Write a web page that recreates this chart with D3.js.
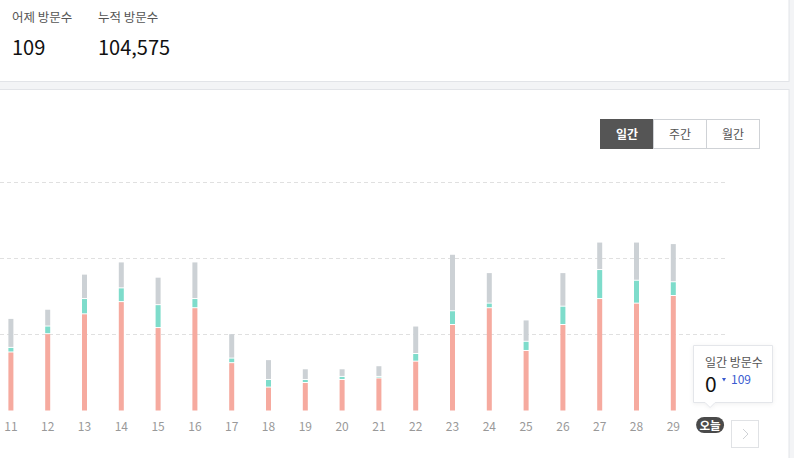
<!DOCTYPE html>
<html><head><meta charset="utf-8">
<script src="https://cdn.jsdelivr.net/npm/d3@7"></script>
<style>
html,body{margin:0;padding:0;background:#f3f4f6;}
svg{display:block;font-family:"Noto Sans CJK KR","Noto Sans",sans-serif;}
</style></head>
<body>
<script>
const categories = ["11","12","13","14","15","16","17","18","19","20","21","22","23","24","25","26","27","28","29","오늘"];
const pinkValues = [38,50,63,71,54,67,31,15,18,20,21,32,56,67,39,56,73,70,75,0];
const tealValues = [3,5,10,9,15,6,3,5,2,2,1,5,9,3,6,12,19,15,9,0];
const grayValues = [19,11,16,17,18,24,16,13,7,5,7,18,37,20,14,22,18,25,25,0];
const yTicks = [50,100,150];
const periodButtons = ["일간","주간","월간"];
const summaryLabels = ["어제 방문수","누적 방문수"];
const summaryValues = ["109","104,575"];
const tooltipTitle = "일간 방문수";
const tooltipValue = "0";
const tooltipDelta = "109";

const W = 794, H = 458;
const svg = d3.select("body").append("svg").attr("width", W).attr("height", H);

// background and cards
svg.append("rect").attr("x",0).attr("y",0).attr("width",W).attr("height",H).attr("fill","#f3f4f6");
svg.append("rect").attr("x",-2).attr("y",-2).attr("width",791).attr("height",83.5).attr("fill","#fff").attr("stroke","#e2e4e8");
svg.append("rect").attr("x",-2).attr("y",89.5).attr("width",791).attr("height",380).attr("fill","#fff").attr("stroke","#e2e4e8");

// summary
const sx = [12, 98];
summaryLabels.forEach((t,i)=>{
  svg.append("text").attr("x",sx[i]).attr("y",22).attr("font-size",12.5).attr("fill","#555").text(t);
  svg.append("text").attr("x",sx[i]).attr("y",54.5).attr("font-size",20).attr("fill","#111").text(summaryValues[i]);
});

// buttons
const btnX = d3.scaleBand().domain(periodButtons).range([600.5,759.5]);
periodButtons.forEach((b,i)=>{
  svg.append("rect").attr("x",btnX(b)).attr("y",119.5).attr("width",btnX.bandwidth()).attr("height",29)
    .attr("fill", i===0?"#555":"#fff").attr("stroke", i===0?"#555":"#cfd2d6");
  svg.append("text").attr("x",btnX(b)+btnX.bandwidth()/2).attr("y",138.5).attr("text-anchor","middle")
    .attr("font-size",12).attr("font-weight", i===0?"bold":"normal").attr("fill", i===0?"#fff":"#555").text(b);
});

// scales
const x = d3.scaleBand().domain(categories).range([-7.5,728.5]);
const y = d3.scaleLinear().domain([0,150]).range([410.5,181.5]);

// grid
svg.append("g").selectAll("line").data(yTicks).join("line")
  .attr("x1",0).attr("x2",727).attr("y1",d=>Math.round(y(d))+0.5).attr("y2",d=>Math.round(y(d))+0.5)
  .attr("stroke","#e0e0e0").attr("stroke-dasharray","4,3");

// bars
const bw = 5;
const stacks = categories.map((c,i)=>{
  const p = pinkValues[i], t = tealValues[i], g = grayValues[i];
  return [
    {c, y0:0, y1:p, color:"#f6aa9f"},
    {c, y0:p, y1:p+t, color:"#7edccb"},
    {c, y0:p+t, y1:p+t+g, color:"#ccd1d5"}
  ];
}).flat().filter(d=>d.y1>d.y0);
svg.append("g").selectAll("rect").data(stacks).join("rect")
  .attr("x",d=>x(d.c)+x.bandwidth()/2-bw/2)
  .attr("width",bw)
  .attr("y",d=>y(d.y1))
  .attr("height",d=>Math.max(0.5, y(d.y0)-y(d.y1)-(d.y0>0?1:0)))
  .attr("fill",d=>d.color);

// x axis labels
const axis = d3.axisBottom(x).tickSize(0).tickPadding(0);
const ag = svg.append("g").attr("transform","translate(0,421)").call(axis);
ag.select(".domain").remove();
ag.selectAll("text").attr("font-size",12).attr("fill","#999").attr("dy","0.8em")
  .style("font-family",'"Noto Sans CJK KR","Noto Sans",sans-serif');
ag.selectAll(".tick").filter(d=>d==="오늘").select("text").attr("opacity",0);

// today pill
const tx = x("오늘")+x.bandwidth()/2;
svg.append("rect").attr("x",tx-14).attr("y",417).attr("width",28).attr("height",16).attr("rx",8).attr("fill","#4a4a4a");
svg.append("text").attr("x",tx).attr("y",429.5).attr("text-anchor","middle").attr("font-size",11.5).attr("font-weight","bold").attr("fill","#fff").text("오늘");

// next button
svg.append("rect").attr("x",731.5).attr("y",420.5).attr("width",27).attr("height",27).attr("fill","#fff").attr("stroke","#e0e2e5");
svg.append("path").attr("d","M743,429 L748,434 L743,439").attr("fill","none").attr("stroke","#cfd2d6").attr("stroke-width",1);

// tooltip
const tip = svg.append("g");
tip.append("path").attr("d",`M693.5,345.5 H772.5 V402.5 H${tx+5} L${tx},407.5 L${tx-5},402.5 H693.5 Z`)
  .attr("fill","#fff").attr("stroke","#e4e6ea").style("filter","drop-shadow(0 1px 2px rgba(0,0,0,0.06))");
tip.append("text").attr("x",705).attr("y",367).attr("font-size",12).attr("fill","#555").text(tooltipTitle);
tip.append("text").attr("x",705).attr("y",392).attr("font-size",21).attr("fill","#111").text(tooltipValue);
tip.append("path").attr("d","M722,378 L726,378 L724,381.5 Z").attr("fill","#3a5bd0");
tip.append("text").attr("x",731).attr("y",384).attr("font-size",12).attr("fill","#3a5bd0").text(tooltipDelta);
</script>
</body></html>
